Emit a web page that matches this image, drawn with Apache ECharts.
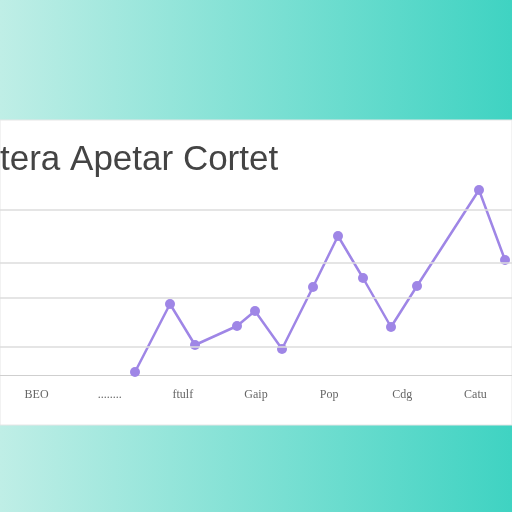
<!DOCTYPE html>
<html>
<head>
<meta charset="UTF-8">
<script src="https://cdn.jsdelivr.net/npm/echarts/dist/echarts.min.js"></script>
<style>html,body{margin:0;padding:0;}#c{width:512px;height:512px;}</style>
</head>
<body>
<div id="c"></div>
<script>
// data (x position along axis, height above baseline)
const pointX = [135, 170, 195, 237, 255, 282, 313, 338, 363, 391, 417, 479, 505];
const pointY = [3, 71, 30, 49, 64, 26, 88, 139, 97, 48, 89, 185, 115];
const xLabels = ['BEO', '........', 'ftulf', 'Gaip', 'Pop', 'Cdg', 'Catu'];
const gridLines = [165, 112, 77, 28];

const chart = echarts.init(document.getElementById('c'));
chart.setOption({
    animation: false,
    graphic: [
        { type: 'rect', z: -10, shape: { x: 0, y: 0, width: 512, height: 512 },
          style: { fill: new echarts.graphic.LinearGradient(0, 0, 1, 0, [
              { offset: 0, color: '#bfeee6' }, { offset: 1, color: '#3fd3c2' }]) } },
        { type: 'rect', z: -9, shape: { x: 0, y: 120, width: 512, height: 305 },
          style: { fill: '#ffffff', stroke: '#e6e6e6' } },
        { type: 'text', left: 0, top: 143,
          style: { text: 'tera Apetar Cortet', fontSize: 35, fontFamily: 'Liberation Sans', fill: '#444' } }
    ],
    grid: { left: 0, right: 0, top: 180, bottom: 137 },
    xAxis: [
        { type: 'value', min: 0, max: 512, show: false },
        { type: 'category', position: 'bottom', data: xLabels,
          axisLine: { lineStyle: { color: '#cfcfcf' } }, axisTick: { show: false },
          axisLabel: { color: '#666', fontSize: 12, fontFamily: 'Liberation Serif', margin: 14 } }
    ],
    yAxis: { type: 'value', min: 0, max: 195, show: false },
    series: [{
        type: 'line',
        xAxisIndex: 0,
        data: pointX.map((x, i) => [x, pointY[i]]),
        symbol: 'circle', symbolSize: 10,
        lineStyle: { color: '#9f86e6', width: 2.5 },
        itemStyle: { color: '#9f86e6' },
        markLine: {
            silent: true, symbol: 'none', label: { show: false },
            lineStyle: { color: '#dcdcdc', type: 'solid', width: 1.5 },
            data: gridLines.map(v => ({ yAxis: v }))
        }
    }]
});
</script>
</body>
</html>
